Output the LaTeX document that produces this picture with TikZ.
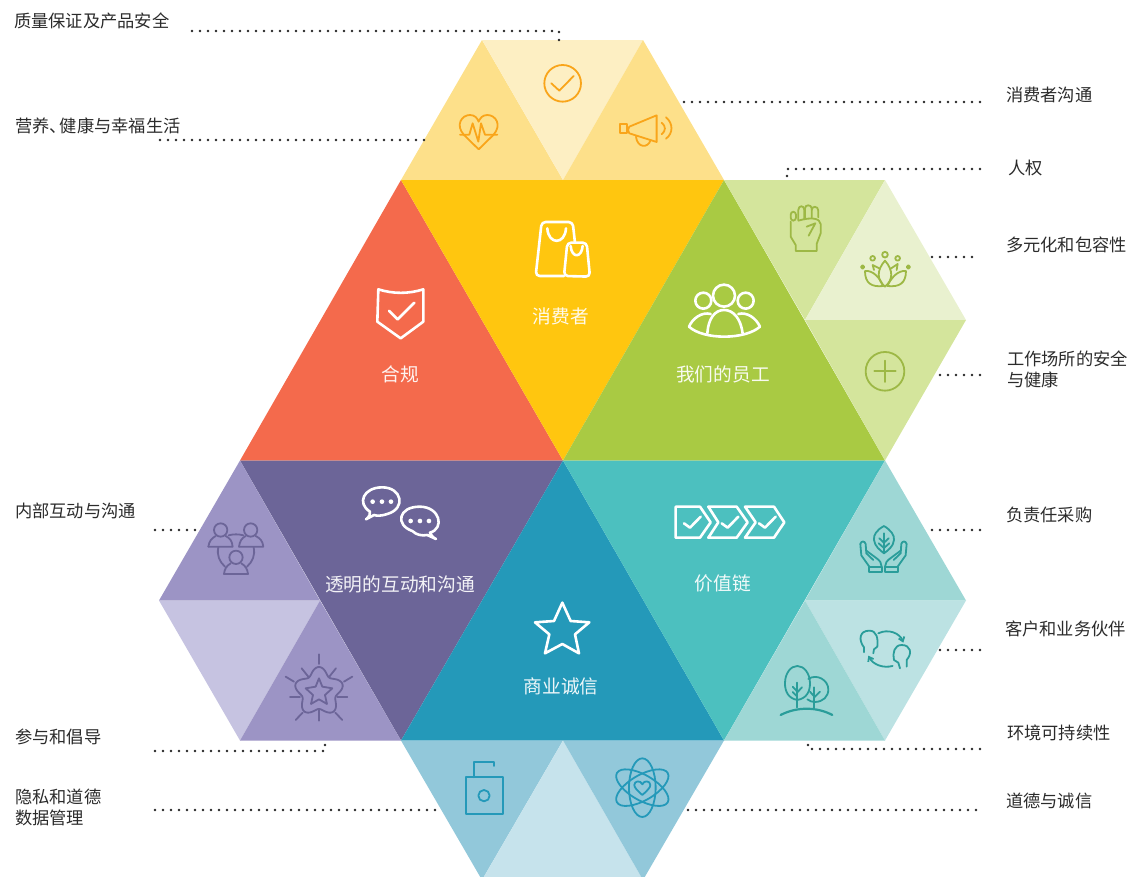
\documentclass[tikz,border=0pt]{standalone}
\usepackage{fontspec}
\setmainfont{Noto Sans CJK SC}
\usetikzlibrary{arrows.meta}
\definecolor{ylA}{HTML}{FDE08A}\definecolor{ylB}{HTML}{FDEFC3}\definecolor{ylC}{HTML}{FFC60F}\definecolor{ylI}{HTML}{F9A51A}
\definecolor{grA}{HTML}{D4E59C}\definecolor{grB}{HTML}{E9F1CF}\definecolor{grC}{HTML}{A9CA43}\definecolor{grI}{HTML}{9DB845}
\definecolor{puA}{HTML}{9C94C5}\definecolor{puB}{HTML}{C6C3E1}\definecolor{puC}{HTML}{6C6598}
\definecolor{teA}{HTML}{9ED7D5}\definecolor{teB}{HTML}{BCE2E3}\definecolor{teC}{HTML}{4CC0BF}\definecolor{teI}{HTML}{2A9D9A}
\definecolor{blA}{HTML}{92C8DA}\definecolor{blB}{HTML}{C6E3EC}\definecolor{blC}{HTML}{2499B9}
\definecolor{orC}{HTML}{F46A4C}\definecolor{txt}{HTML}{2B2B2B}
\tikzset{
  za/.style={shift={(#1)},scale=0.3333},
  ico/.style={draw=#1,line width=1.8pt,line cap=round,line join=round},
  wic/.style={draw=white,line width=2.6pt,line cap=round,line join=round},
  outlabel/.style={anchor=west,inner sep=0pt,text=txt,align=left,font=\fontsize{17.25}{21}\selectfont},
  inlabel/.style={inner sep=0pt,text=white,text opacity=.92,font=\fontsize{18.7}{22}\selectfont},
  dotline/.style={draw=black!85,line width=2.9pt,line cap=round,dash pattern=on 0pt off 8pt},
}
\begin{document}
\begin{tikzpicture}[x=1pt,y=-1pt]
\useasboundingbox (0,0) rectangle (1138,876);
\clip (0,0) rectangle (1138,876);
% triangles
\fill[ylA] (482,40)--(401,180)--(563,180)--cycle;
\fill[ylB] (482,40)--(643,40)--(563,180)--cycle;
\fill[ylA] (643,40)--(563,180)--(724,180)--cycle;
\fill[orC] (401,180)--(240,460.5)--(563,460.5)--cycle;
\fill[ylC] (401,180)--(724,180)--(563,460.5)--cycle;
\fill[grC] (724,180)--(563,460.5)--(885,460.5)--cycle;
\fill[grA] (724,180)--(885,180)--(805,320)--cycle;
\fill[grB] (885,180)--(805,320)--(966,320)--cycle;
\fill[grA] (805,320)--(966,320)--(885,460.5)--cycle;
\fill[puC] (240,460.5)--(563,460.5)--(401,740.5)--cycle;
\fill[blC] (563,460.5)--(401,740.5)--(724,740.5)--cycle;
\fill[teC] (563,460.5)--(885,460.5)--(724,740.5)--cycle;
\fill[puA] (240,460.5)--(159,600.5)--(320,600.5)--cycle;
\fill[puB] (159,600.5)--(320,600.5)--(240,740.5)--cycle;
\fill[puA] (320,600.5)--(240,740.5)--(401,740.5)--cycle;
\fill[teA] (885,460.5)--(805,600.5)--(966,600.5)--cycle;
\fill[teB] (805,600.5)--(966,600.5)--(885,740.5)--cycle;
\fill[teA] (805,600.5)--(724,740.5)--(885,740.5)--cycle;
\fill[blA] (401,740.5)--(563,740.5)--(482,880)--cycle;
\fill[blB] (563,740.5)--(482,880)--(643,880)--cycle;
\fill[blA] (563,740.5)--(724,740.5)--(643,880)--cycle;
% --- icons, zoom 1
\begin{scope}[za={390,20}]
 \path[ico=ylI] (518,190) circle (55);
 \path[ico=ylI] (484,190)--(508,212)--(551,168);
 \path[ico=ylI] (266,388)--(222,345) .. controls (195,315) and (215,285) .. (240,285) .. controls (255,285) and (262,295) .. (266,305) .. controls (270,295) and (277,285) .. (292,285) .. controls (317,285) and (337,315) .. (310,345)--cycle;
 \path[ico=ylI] (210,344)--(238,344)--(248,310)--(265,365)--(273,310)--(285,344)--(322,344);
 \path[ico=ylI] (690,313) rectangle (711,340);
 \path[ico=ylI] (718,320)--(800,286)--(800,366)--(718,340) .. controls (713,335) and (713,325) .. cycle;
 \path[ico=ylI] (738,350) .. controls (742,385) and (775,385) .. (782,360);
 \path[ico=ylI] (815,308) .. controls (828,318) and (828,333) .. (815,343);
 \path[ico=ylI] (828,292) .. controls (850,310) and (850,340) .. (828,356);
 \path[wic,rounded corners=4pt] (555,668)--(548,606)--(455,606)--(437,768)--(522,768);
 \path[wic] (472,625) .. controls (475,675) and (525,675) .. (528,625);
 \path[wic,rounded corners=4pt] (522,768)--(532,668)--(590,668)--(600,770)--cycle;
 \path[wic] (542,678) .. controls (545,715) and (575,715) .. (578,678);
\end{scope}
% shield
\begin{scope}[za={360,280}]
 \path[wic] (55,28) .. controls (100,42) and (145,42) .. (190,28)--(190,125)--(122,175)--(52,125)--cycle;
 \path[wic] (87,92)--(113,118)--(163,68);
\end{scope}
% --- zoom 2
\begin{scope}[za={670,170}]
 \path[ico=grI,rounded corners=3pt] (362,125) rectangle (378,152);
 \path[ico=grI] (385,150)--(385,120) .. controls (385,105) and (403,105) .. (403,120)--(403,148);
 \path[ico=grI] (405,146)--(405,115) .. controls (405,103) and (425,103) .. (425,115)--(425,143);
 \path[ico=grI] (425,120) .. controls (425,107) and (445,107) .. (445,122)--(445,142);
 \path[ico=grI] (362,155)--(362,200)--(377,225)--(377,243)--(440,243)--(440,222)--(452,190)--(452,162) .. controls (450,145) and (425,140) .. (385,152);
 \path[ico=grI] (410,170)--(436,160)--(416,197);
 \path[ico=grI] (645,272) .. controls (620,300) and (620,330) .. (645,350) .. controls (670,330) and (670,300) .. (645,272);
 \path[ico=grI] (585,303) .. controls (610,300) and (630,325) .. (640,348) .. controls (605,352) and (585,340) .. (585,303);
 \path[ico=grI] (708,303) .. controls (683,300) and (663,325) .. (652,348) .. controls (688,352) and (708,340) .. (708,303);
 \path[ico=grI] (612,300)--(608,285)--(630,296);
 \path[ico=grI] (680,300)--(683,282)--(662,296);
 \path[ico=grI] (645,254) circle (8.5);
 \path[ico=grI] (608,265) circle (7);
 \path[ico=grI] (683,265) circle (7);
 \path[ico=grI] (578,291) circle (5);
 \path[ico=grI] (715,291) circle (5);
 \path[ico=grI] (645,604) circle (58);
 \path[ico=grI] (613,604)--(677,604);
 \path[ico=grI] (645,572)--(645,636);
 \path[wic] (162,377) circle (33);
 \path[wic] (100,392) circle (24);
 \path[wic] (227,392) circle (24);
 \path[wic] (112,490) .. controls (115,445) and (135,420) .. (162,420) .. controls (190,420) and (212,445) .. (218,490);
 \path[wic] (57,470) .. controls (100,510) and (225,510) .. (270,470);
 \path[wic] (57,470) .. controls (68,445) and (95,425) .. (122,432);
 \path[wic] (270,470) .. controls (258,445) and (232,425) .. (205,432);
\end{scope}
% --- zoom 3
\begin{scope}[za={150,470}]
 \path[ico=puC] (212,180) circle (20);
 \path[ico=puC] (302,180) circle (20);
 \path[ico=puC] (258,262) circle (20);
 \path[ico=puC] (175,230) .. controls (178,212) and (185,205) .. (197,198);
 \path[ico=puC] (227,198) .. controls (240,205) and (246,212) .. (248,230)--(175,230);
 \path[ico=puC] (267,230) .. controls (270,212) and (275,205) .. (287,198);
 \path[ico=puC] (317,198) .. controls (330,205) and (338,212) .. (340,230)--(267,230);
 \path[ico=puC] (222,312) .. controls (224,295) and (230,288) .. (242,280);
 \path[ico=puC] (274,280) .. controls (286,288) and (292,295) .. (294,312)--(222,312);
 \path[ico=puC] (236,196) .. controls (250,192) and (266,192) .. (280,196);
 \path[ico=puC] (205,232) .. controls (200,255) and (208,275) .. (225,290);
 \path[ico=puC] (311,232) .. controls (316,255) and (308,275) .. (291,290);
 \path[ico=puC] plot[domain=0:360,samples=90,smooth] ({507+(63+11*cos(5*(\x-90)))*cos(\x)},{665-(63+11*cos(5*(\x-90)))*sin(\x)});
 \path[ico=puC] (507,625)--(517,650)--(547,655)--(525,675)--(531,702)--(507,688)--(483,702)--(489,675)--(467,655)--(497,650)--cycle;
 \path[ico=puC] (507,553)--(507,582);
 \path[ico=puC] (455,595)--(475,620);
 \path[ico=puC] (558,595)--(538,620);
 \path[ico=puC] (407,620)--(432,635);
 \path[ico=puC] (607,620)--(582,635);
 \path[ico=puC] (420,680)--(450,680);
 \path[ico=puC] (592,680)--(562,680);
 \path[ico=puC] (437,750)--(458,728);
 \path[ico=puC] (577,750)--(556,728);
 \path[ico=puC] (507,720)--(507,752);
 \path[wic] (660,125) .. controls (620,100) and (640,52) .. (697,52) .. controls (755,52) and (770,115) .. (712,132) .. controls (695,138) and (680,138) .. (672,135)--(648,148) .. controls (658,140) and (662,132) .. (660,125);
 \path[wic] (787,183) .. controls (735,165) and (745,110) .. (809,110) .. controls (870,110) and (885,175) .. (840,188) .. controls (843,195) and (848,202) .. (858,207)--(832,195) .. controls (815,198) and (800,195) .. (787,183);
 \foreach \px/\py in {668/95,696/95,723/95,782/153,810/153,837/153} \fill[white] (\px,\py) circle (7);
\end{scope}
% --- zoom 4
\begin{scope}[za={660,490}]
 \path[wic] (47,50)--(120,50)--(152,97)--(120,143)--(47,143)--cycle;
 \path[wic] (145,50)--(230,50)--(263,97)--(230,143)--(145,143)--(175,97)--cycle;
 \path[wic] (255,50)--(342,50)--(373,97)--(342,143)--(255,143)--(287,97)--cycle;
 \path[wic] (72,100)--(90,113)--(122,80);
 \path[wic] (185,100)--(203,113)--(235,80);
 \path[wic] (297,100)--(315,113)--(347,80);
 % hands
 \path[ico=teI] (672,108) .. controls (650,120) and (640,135) .. (642,150) .. controls (645,170) and (660,180) .. (672,190) .. controls (685,180) and (700,170) .. (702,150) .. controls (704,135) and (692,120) .. (672,108);
 \path[ico=teI] (672,130)--(672,185);
 \path[ico=teI] (658,145)--(672,158)--(686,145);
 \path[ico=teI] (656,160)--(672,174)--(688,160);
 \path[ico=teI] (628,230) rectangle (665,245);
 \path[ico=teI] (675,230) rectangle (713,245);
 \path[ico=teI] (628,230)--(604,196)--(601,162) .. controls (603,152) and (615,152) .. (617,162)--(619,190)--(640,210);
 \path[ico=teI] (619,182)--(650,205) .. controls (660,212) and (665,220) .. (665,230);
 \path[ico=teI] (713,230)--(737,196)--(740,162) .. controls (738,152) and (726,152) .. (724,162)--(722,190)--(701,210);
 \path[ico=teI] (722,182)--(691,205) .. controls (681,212) and (675,220) .. (675,230);
 % heads
 \path[ico=teI] (612,487)--(612,472) .. controls (595,450) and (598,422) .. (628,422) .. controls (650,422) and (655,445) .. (652,470)--(642,478)--(640,490);
 \path[ico=teI] (740,530)--(740,510) .. controls (758,490) and (752,465) .. (725,465) .. controls (703,465) and (697,490) .. (702,510)--(715,518)--(720,535);
 \path[ico=teI,-{Straight Barb[length=4pt,width=6pt]}] (655,430) .. controls (685,415) and (720,430) .. (730,458);
 \path[ico=teI,-{Straight Barb[length=4pt,width=6pt]}] (698,528) .. controls (670,535) and (640,525) .. (625,497);
 % trees
 \path[ico=teI] (412,630) .. controls (385,625) and (375,605) .. (375,580) .. controls (375,550) and (392,528) .. (412,528) .. controls (432,528) and (450,550) .. (450,580) .. controls (450,605) and (440,625) .. (412,630);
 \path[ico=teI] (445,567) .. controls (470,550) and (505,570) .. (505,598) .. controls (505,620) and (490,635) .. (465,636) .. controls (457,636) and (450,634) .. (442,628);
 \path[ico=teI] (412,578)--(412,652);
 \path[ico=teI] (398,590)--(412,605);
 \path[ico=teI] (426,592)--(412,607);
 \path[ico=teI] (398,606)--(412,620);
 \path[ico=teI] (463,592)--(463,655);
 \path[ico=teI] (450,605)--(463,620);
 \path[ico=teI] (480,605)--(463,622);
 \path[ico=teI,line width=2.2pt] (362,675) .. controls (410,650) and (470,650) .. (517,675);
\end{scope}
% --- zoom 5
\begin{scope}[za={450,590}]
 \path[wic] (337,38)--(362,93)--(418,97)--(375,133)--(387,190)--(337,162)--(285,190)--(298,133)--(255,97)--(312,93)--cycle;
 \path[ico=blC] (47,562) rectangle (160,672);
 \path[ico=blC] (102,617) circle (17);
 \path[ico=blC] (72,562)--(72,516)--(132,516)--(132,528);
 \path[ico=blC] (577,593) ellipse [x radius=40,y radius=88];
 \path[ico=blC,rotate around={30:(577,593)}] (577,593) ellipse [x radius=88,y radius=38];
 \path[ico=blC,rotate around={-30:(577,593)}] (577,593) ellipse [x radius=88,y radius=38];
 \path[ico=blC] (577,615) .. controls (560,600) and (553,592) .. (553,585) .. controls (553,572) and (572,570) .. (577,583) .. controls (582,570) and (601,572) .. (601,585) .. controls (601,592) and (594,600) .. (577,615) -- cycle;
\end{scope}
% inner labels
\node[inlabel] (lconsumer) at (561,316) {消费者};
\node[inlabel] (lcomply) at (400,374) {合规};
\node[inlabel] (lstaff) at (723,374) {我们的员工};
\node[inlabel] (ltrans) at (400,584) {透明的互动和沟通};
\node[inlabel] (lchain) at (723,583) {价值链};
\node[inlabel] (lbiz) at (561,686) {商业诚信};
% outer labels
\node[outlabel] (q1) at (14,21) {质量保证及产品安全};
\node[outlabel] (q2) at (15,126) {营养、\kern-7pt健康与幸福生活};
\node[outlabel] (q3) at (1006,95) {消费者沟通};
\node[outlabel] (q4) at (1008,168) {人权};
\node[outlabel] (q5) at (1006,245) {多元化和包容性};
\node[outlabel] (q6) at (1007,369.5) {工作场所的安全\\与健康};
\node[outlabel] (q7) at (15,511) {内部互动与沟通};
\node[outlabel] (q8) at (1006,515) {负责任采购};
\node[outlabel] (q9) at (1005,629) {客户和业务伙伴};
\node[outlabel] (q10) at (15,737) {参与和倡导};
\node[outlabel] (q11) at (1007,733) {环境可持续性};
\node[outlabel] (q12) at (15,807.5) {隐私和道德\\数据管理};
\node[outlabel] (q13) at (1006,801) {道德与诚信};
% connector ends
\coordinate (a1) at (192,31);\coordinate (a1b) at (559,31);\coordinate (a1c) at (559,41);
\coordinate (a2) at (160,140);\coordinate (a2b) at (424,140);
\coordinate (a3) at (684,102);\coordinate (a3b) at (980,102);
\coordinate (a4) at (980,169);\coordinate (a4b) at (787,169);\coordinate (a4c) at (787,178);
\coordinate (a5) at (932,257);\coordinate (a5b) at (978,257);
\coordinate (a6) at (940,375);\coordinate (a6b) at (980,375);
\coordinate (a7) at (155,530);\coordinate (a7b) at (195,530);
\coordinate (a8) at (932,530);\coordinate (a8b) at (980,530);
\coordinate (a9) at (940,650);\coordinate (a9b) at (980,650);
\coordinate (a10) at (155,751);\coordinate (a10b) at (325,751);\coordinate (a10c) at (325,742);
\coordinate (a11) at (980,749);\coordinate (a11b) at (808,749);\coordinate (a11c) at (808,741);
\coordinate (a12) at (155,810);\coordinate (a12b) at (440,810);
\coordinate (a13) at (688,810);\coordinate (a13b) at (980,810);
\path[dotline] (a1)--(a1b)--(a1c);
\path[dotline] (a2)--(a2b);
\path[dotline] (a3)--(a3b);
\path[dotline] (a4)--(a4b)--(a4c);
\path[dotline] (a5)--(a5b);
\path[dotline] (a6)--(a6b);
\path[dotline] (a7)--(a7b);
\path[dotline] (a8)--(a8b);
\path[dotline] (a9)--(a9b);
\path[dotline] (a10)--(a10b)--(a10c);
\path[dotline] (a11)--(a11b)--(a11c);
\path[dotline] (a12)--(a12b);
\path[dotline] (a13)--(a13b);
\end{tikzpicture}
\end{document}
